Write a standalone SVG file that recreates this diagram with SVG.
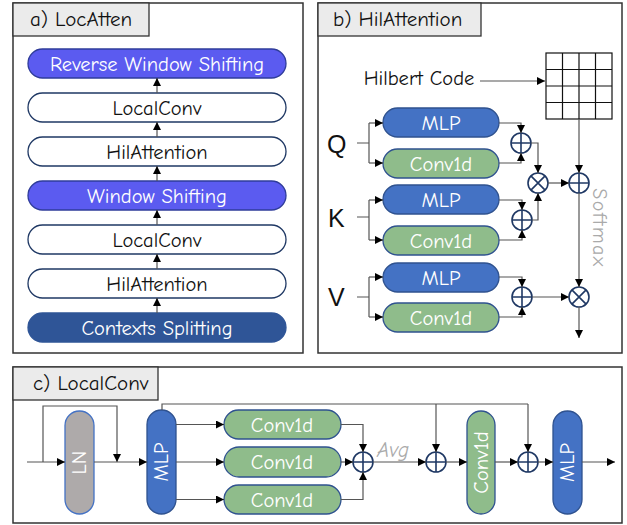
<svg xmlns="http://www.w3.org/2000/svg" width="627" height="525" viewBox="0 0 627 525">
  <defs>
    <marker id="arr" markerUnits="userSpaceOnUse" markerWidth="9" markerHeight="9" refX="8" refY="4" orient="auto">
      <path d="M0,0 L8,4 L0,8 z" fill="#000"/>
    </marker>
    <style>
      .panel { fill: #fff; stroke: #333; stroke-width: 1.5; }
      .tab { fill: #ebebeb; stroke: #333; stroke-width: 1.3; }
      .title { font-family: "Comic Sans MS", "Comic Neue", "DejaVu Sans", sans-serif; font-size: 21px; fill: #111; }
      .lbl { font-family: "Comic Sans MS", "Comic Neue", "DejaVu Sans", sans-serif; font-size: 20.5px; text-anchor: middle; dominant-baseline: central; }
      .dark { fill: #111; }
      .light { fill: #fff; }
      .pw { fill: #fff; stroke: #1f3864; stroke-width: 1.3; }
      .pviolet { fill: #5b5bf0; stroke: #2f3c9a; stroke-width: 1.3; }
      .pnavy { fill: #2f5597; stroke: #2f5597; stroke-width: 1.3; }
      .pblue { fill: #4472c4; stroke: #2f528f; stroke-width: 1.3; }
      .pgreen { fill: #8fbc8b; stroke: #2f528f; stroke-width: 1.3; }
      .pgray { fill: #aeaaaa; stroke: #4472c4; stroke-width: 1.3; }
      .op { fill: #fff; stroke: #1f3864; stroke-width: 1.6; }
      .opl { stroke: #1f3864; stroke-width: 1.6; fill: none; }
      .con { fill: none; stroke: #555; stroke-width: 1.2; }
      .conA { fill: none; stroke: #555; stroke-width: 1.2; marker-end: url(#arr); }
      .qkv { font-family: "Liberation Sans", Arial, sans-serif; font-size: 25px; fill: #111; dominant-baseline: central; }
      .grid { fill: #fff; stroke: #111; stroke-width: 1.2; }
      .note { font-family: "Comic Sans MS", "Comic Neue", "DejaVu Sans", sans-serif; font-size: 20px; fill: #aaa; }
      .avg { font-size: 21px; font-style: italic; }
    </style>
  </defs>

  <!-- Panel frames -->
  <rect class="panel" x="13" y="3" width="290" height="350"/>
  <rect class="tab" x="13" y="3" width="136" height="33"/>
  <text class="title" x="30" y="26">a) LocAtten</text>

  <rect class="panel" x="318" y="3" width="304" height="350"/>
  <rect class="tab" x="318" y="3" width="163" height="33"/>
  <text class="title" x="333" y="26">b) HilAttention</text>

  <rect class="panel" x="13" y="367" width="609" height="156"/>
  <rect class="tab" x="13" y="367" width="145" height="33"/>
  <text class="title" x="33" y="390">c) LocalConv</text>

  <!-- a) LocAtten stack -->
  <g id="a-reverse-window-shifting">
    <rect class="pviolet" x="28" y="49" width="258" height="29" rx="14.5"/>
    <text class="lbl light" x="157" y="64">Reverse Window Shifting</text>
  </g>
  <g id="a-localconv-2">
    <rect class="pw" x="28" y="93" width="258" height="29" rx="14.5"/>
    <text class="lbl dark" x="157" y="108">LocalConv</text>
  </g>
  <g id="a-hilattention-2">
    <rect class="pw" x="28" y="137" width="258" height="29" rx="14.5"/>
    <text class="lbl dark" x="157" y="152">HilAttention</text>
  </g>
  <g id="a-window-shifting">
    <rect class="pviolet" x="28" y="181" width="258" height="29" rx="14.5"/>
    <text class="lbl light" x="157" y="196">Window Shifting</text>
  </g>
  <g id="a-localconv-1">
    <rect class="pw" x="28" y="225" width="258" height="29" rx="14.5"/>
    <text class="lbl dark" x="157" y="240">LocalConv</text>
  </g>
  <g id="a-hilattention-1">
    <rect class="pw" x="28" y="269" width="258" height="29" rx="14.5"/>
    <text class="lbl dark" x="157" y="284">HilAttention</text>
  </g>
  <g id="a-contexts-splitting">
    <rect class="pnavy" x="28" y="313" width="258" height="29" rx="14.5"/>
    <text class="lbl light" x="157" y="328">Contexts Splitting</text>
  </g>

  <!-- b) HilAttention nodes -->
  <g id="b-hilbert-code">
    <text class="lbl dark" x="419" y="78">Hilbert Code</text>
  </g>
  <g id="b-grid">
    <rect class="grid" x="546" y="53" width="66" height="66"/>
    <path class="grid" d="M562.5,53 V119 M579,53 V119 M595.5,53 V119 M546,69.5 H612 M546,86 H612 M546,102.5 H612"/>
  </g>
  <g id="b-q"><text class="qkv" x="327" y="144">Q</text></g>
  <g id="b-k"><text class="qkv" x="328" y="218">K</text></g>
  <g id="b-v"><text class="qkv" x="328" y="297">V</text></g>

  <g id="b-q-mlp">
    <rect class="pblue" x="383" y="108" width="116" height="29" rx="14.5"/>
    <text class="lbl light" x="441" y="123">MLP</text>
  </g>
  <g id="b-q-conv">
    <rect class="pgreen" x="383" y="149" width="116" height="29" rx="14.5"/>
    <text class="lbl light" x="441" y="164">Conv1d</text>
  </g>
  <g id="b-k-mlp">
    <rect class="pblue" x="383" y="185" width="116" height="29" rx="14.5"/>
    <text class="lbl light" x="441" y="200">MLP</text>
  </g>
  <g id="b-k-conv">
    <rect class="pgreen" x="383" y="226" width="116" height="29" rx="14.5"/>
    <text class="lbl light" x="441" y="241">Conv1d</text>
  </g>
  <g id="b-v-mlp">
    <rect class="pblue" x="383" y="263" width="116" height="29" rx="14.5"/>
    <text class="lbl light" x="441" y="278">MLP</text>
  </g>
  <g id="b-v-conv">
    <rect class="pgreen" x="383" y="303" width="116" height="29" rx="14.5"/>
    <text class="lbl light" x="441" y="318">Conv1d</text>
  </g>

  <g id="b-q-add">
    <circle class="op" cx="521" cy="143" r="10"/>
    <path class="opl" d="M511,143 H531 M521,133 V153"/>
  </g>
  <g id="b-k-add">
    <circle class="op" cx="522" cy="220" r="10"/>
    <path class="opl" d="M512,220 H532 M522,210 V230"/>
  </g>
  <g id="b-v-add">
    <circle class="op" cx="522" cy="297" r="10"/>
    <path class="opl" d="M512,297 H532 M522,287 V307"/>
  </g>
  <g id="b-qk-mul">
    <circle class="op" cx="538" cy="183" r="10"/>
    <path class="opl" d="M530.9,175.9 L545.1,190.1 M545.1,175.9 L530.9,190.1"/>
  </g>
  <g id="b-pos-add">
    <circle class="op" cx="579" cy="183" r="10"/>
    <path class="opl" d="M569,183 H589 M579,173 V193"/>
  </g>
  <g id="b-v-mul">
    <circle class="op" cx="579" cy="297" r="10"/>
    <path class="opl" d="M571.9,289.9 L586.1,304.1 M586.1,289.9 L571.9,304.1"/>
  </g>
  <g id="b-softmax">
    <text class="note" x="0" y="0" transform="translate(593,228) rotate(90)" text-anchor="middle" letter-spacing="1.5">Softmax</text>
  </g>

  <!-- c) LocalConv nodes -->
  <g id="c-ln">
    <rect class="pgray" x="65" y="411" width="29" height="103" rx="14.5"/>
    <text class="lbl light" x="0" y="0" transform="translate(79.5,462.5) rotate(-90)">LN</text>
  </g>
  <g id="c-mlp-in">
    <rect class="pblue" x="147" y="410" width="29" height="104" rx="14.5"/>
    <text class="lbl light" x="0" y="0" transform="translate(161.5,462) rotate(-90)">MLP</text>
  </g>
  <g id="c-conv-1">
    <rect class="pgreen" x="224" y="410" width="117" height="29" rx="14.5"/>
    <text class="lbl light" x="282" y="425">Conv1d</text>
  </g>
  <g id="c-conv-2">
    <rect class="pgreen" x="224" y="447" width="117" height="30" rx="15"/>
    <text class="lbl light" x="282" y="462">Conv1d</text>
  </g>
  <g id="c-conv-3">
    <rect class="pgreen" x="224" y="485" width="117" height="29" rx="14.5"/>
    <text class="lbl light" x="282" y="500">Conv1d</text>
  </g>
  <g id="c-avg-add">
    <circle class="op" cx="363" cy="462" r="10"/>
    <path class="opl" d="M353,462 H373 M363,452 V472"/>
  </g>
  <g id="c-avg-label">
    <text class="note avg" x="377" y="457">Avg</text>
  </g>
  <g id="c-res-add-1">
    <circle class="op" cx="436" cy="462" r="10"/>
    <path class="opl" d="M426,462 H446 M436,452 V472"/>
  </g>
  <g id="c-conv-v">
    <rect class="pgreen" x="467" y="411" width="28" height="103" rx="14"/>
    <text class="lbl light" x="0" y="0" transform="translate(481,462.5) rotate(-90)">Conv1d</text>
  </g>
  <g id="c-res-add-2">
    <circle class="op" cx="528" cy="462" r="10"/>
    <path class="opl" d="M518,462 H538 M528,452 V472"/>
  </g>
  <g id="c-mlp-out">
    <rect class="pblue" x="553" y="411" width="29" height="103" rx="14.5"/>
    <text class="lbl light" x="0" y="0" transform="translate(567.5,462.5) rotate(-90)">MLP</text>
  </g>

  <!-- Connectors -->
  <g id="connectors">
    <!-- a) stack, bottom to top -->
    <path class="conA" d="M157,313 V298"/>
    <path class="conA" d="M157,269 V254"/>
    <path class="conA" d="M157,225 V210"/>
    <path class="conA" d="M157,181 V166"/>
    <path class="conA" d="M157,137 V122"/>
    <path class="conA" d="M157,93 V78"/>

    <!-- b) Hilbert code into grid, grid into add -->
    <path class="conA" d="M480,81 H545"/>
    <path class="conA" d="M579,119 V173"/>

    <!-- b) Q branch -->
    <path class="con" d="M357,143 H369 M369,123 V163"/>
    <path class="conA" d="M369,123 H383"/>
    <path class="conA" d="M369,163 H383"/>
    <path class="conA" d="M499,123 H521 V133"/>
    <path class="conA" d="M499,163 H521 V153"/>
    <path class="conA" d="M531,143 H538 V173"/>

    <!-- b) K branch -->
    <path class="con" d="M357,217 H369 M369,200 V240"/>
    <path class="conA" d="M369,200 H383"/>
    <path class="conA" d="M369,240 H383"/>
    <path class="conA" d="M499,200 H522 V210"/>
    <path class="conA" d="M499,240 H522 V230"/>
    <path class="conA" d="M532,220 H538 V193"/>

    <!-- b) scores -->
    <path class="conA" d="M548,183 H569"/>
    <path class="conA" d="M579,193 V287"/>

    <!-- b) V branch -->
    <path class="con" d="M357,297 H369 M369,277 V317"/>
    <path class="conA" d="M369,277 H383"/>
    <path class="conA" d="M369,317 H383"/>
    <path class="conA" d="M499,277 H522 V287"/>
    <path class="conA" d="M499,317 H522 V307"/>
    <path class="conA" d="M532,297 H569"/>
    <path class="conA" d="M579,307 V338"/>

    <!-- c) input, LN and skip -->
    <path class="conA" d="M27,462 H65"/>
    <path class="conA" d="M43,462 V406 H117 V462"/>
    <path class="conA" d="M94,462 H147"/>

    <!-- c) MLP into three Conv1d -->
    <path class="conA" d="M176,424.5 H224"/>
    <path class="conA" d="M176,462 H224"/>
    <path class="conA" d="M176,499.5 H224"/>

    <!-- c) average -->
    <path class="conA" d="M341,424.5 H363 V452"/>
    <path class="conA" d="M341,462 H353"/>
    <path class="conA" d="M341,499.5 H363 V472"/>

    <!-- c) residual line from MLP -->
    <path class="con" d="M162,410 V404 H528"/>
    <path class="conA" d="M436,404 V452"/>
    <path class="conA" d="M528,404 V452"/>

    <!-- c) main path to output -->
    <path class="conA" d="M373,462 H426"/>
    <path class="conA" d="M446,462 H467"/>
    <path class="conA" d="M495,462 H518"/>
    <path class="conA" d="M538,462 H553"/>
    <path class="conA" d="M582,462 H615"/>
  </g>
</svg>
